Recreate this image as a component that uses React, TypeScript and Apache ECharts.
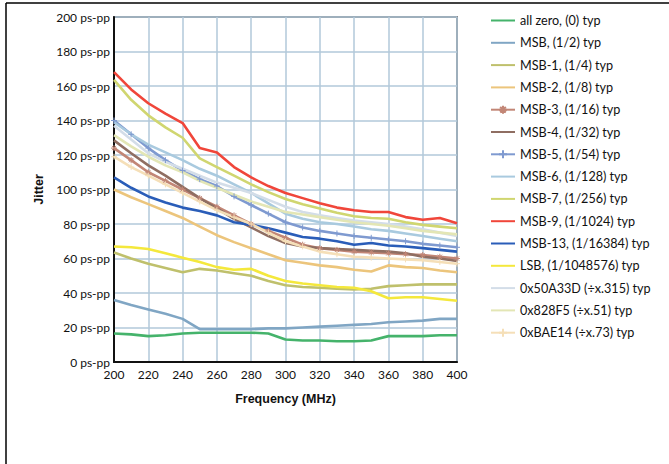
import React, { useEffect, useRef } from "react";
import * as echarts from "echarts";

const freqs = [200, 210, 220, 230, 240, 250, 260, 270, 280, 290, 300, 310, 320, 330, 340, 350, 360, 370, 380, 390, 400];
const yTicks = [0, 20, 40, 60, 80, 100, 120, 140, 160, 180, 200];

const seriesNames = [
  "all zero, (0) typ",
  "MSB, (1/2) typ",
  "MSB-1, (1/4) typ",
  "MSB-2, (1/8) typ",
  "MSB-3, (1/16) typ",
  "MSB-4, (1/32) typ",
  "MSB-5, (1/54) typ",
  "MSB-6, (1/128) typ",
  "MSB-7, (1/256) typ",
  "MSB-9, (1/1024) typ",
  "MSB-13, (1/16384) typ",
  "LSB, (1/1048576) typ",
  "0x50A33D (÷x.315) typ",
  "0x828F5 (÷x.51) typ",
  "0xBAE14 (÷x.73) typ",
];

const allZero = [16.5, 16, 15, 15.5, 16.5, 17, 17, 17, 17, 16.5, 13, 12.5, 12.5, 12, 12, 12.5, 15, 15, 15, 15.5, 15.5];
const msb = [36, 33, 30.5, 28, 25, 19, 19, 19, 19, 19.5, 19.5, 20, 20.5, 21, 21.5, 22, 23, 23.5, 24, 25, 25];
const msb1 = [63.5, 60, 57, 54.5, 52, 54, 53, 51.5, 50, 47, 44.5, 43.5, 43, 42.5, 42, 42.5, 44, 44.5, 45, 45, 45];
const msb2 = [100, 95.5, 91.5, 87.5, 83.5, 78.5, 73.5, 69.5, 66, 62.5, 59, 57.5, 56, 55, 53.5, 52.5, 56, 55, 54.5, 53, 52];
const msb3 = [124, 117, 110, 105, 100, 95, 90, 85, 80, 76, 72, 68, 66, 65, 64, 63.5, 63, 62.5, 62, 61, 60];
const msb4 = [128.5, 121, 114, 108, 101.5, 95, 89, 83, 78, 73, 69, 67, 66, 65.5, 65, 64.5, 64, 63, 61, 60, 58.5];
const msb5 = [140, 132, 124, 117, 111, 106, 102, 96, 91, 86, 81, 78, 76, 74.5, 73, 72, 71, 70, 68.5, 67.5, 66.5];
const msb6 = [139, 132, 126, 121.5, 117, 112, 108, 103, 98, 92, 86, 83, 81, 80, 78.5, 77, 76, 74.5, 73, 71.5, 70];
const msb7 = [163.5, 152, 143, 136, 130, 118, 113, 108, 103, 98.5, 94.5, 91.5, 89, 86.5, 84.5, 83.5, 83, 81, 79.5, 78.5, 77.5];
const msb9 = [168, 158, 150, 144, 138.5, 124, 121.5, 113, 107, 102, 98, 95, 92, 89.5, 88, 87, 87, 84, 82.5, 83.5, 80.5];
const msb13 = [107, 101, 96, 92.5, 89.5, 87.5, 85, 81, 79.5, 77.5, 75, 72.5, 71.5, 70, 68, 69, 67.5, 67, 66, 65, 64];
const lsb = [67, 66.5, 65.5, 63, 60.5, 58, 55, 53.5, 54, 50, 47, 45.5, 44.5, 43.5, 43, 41, 37, 37.5, 37.5, 36.5, 35.5];
const x50A33D = [137, 129, 121, 116, 112, 108, 104, 101, 98, 94, 90, 87, 85, 83.5, 82, 81, 80, 78.5, 77, 75, 73];
const x828F5 = [131.5, 125, 119, 114, 110, 105, 101, 97, 93, 90, 87, 85.5, 84, 82.5, 81, 80, 79, 77.5, 76, 75, 74];
const xBAE14 = [119, 113, 108, 103, 98, 93, 88, 84, 80, 75, 70, 67, 64, 62.5, 61, 60.5, 60, 59.5, 59, 58, 57];

const seriesValues = [allZero, msb, msb1, msb2, msb3, msb4, msb5, msb6, msb7, msb9, msb13, lsb, x50A33D, x828F5, xBAE14];

const colors = [
  "#45b36b", "#80a6c4", "#bfc06c", "#ecc57c", "#c28676", "#8f6e62", "#7f9ad0", "#a9cadf",
  "#d0d670", "#f0463a", "#2a5db8", "#f4e83c", "#d3dde8", "#e3e6b5", "#f5dfb8",
];

const PLUS = "path://M5,0 L5,10 M0,5 L10,5";
const STAR = "path://M5,0 L5,10 M0,5 L10,5 M1.5,1.5 L8.5,8.5 M8.5,1.5 L1.5,8.5";
const markers: Record<number, string> = { 4: STAR, 6: PLUS, 14: PLUS };

export default function App() {
  const ref = useRef<HTMLDivElement>(null);
  useEffect(() => {
    if (!ref.current) return;
    const chart = echarts.init(ref.current, null, { renderer: "svg" });
    const font = "Lato";
    chart.setOption({
      animation: false,
      backgroundColor: "#ffffff",
      grid: {
        left: 114,
        top: 17,
        right: 212,
        bottom: 102,
        show: true,
        borderColor: "#333",
        borderWidth: 1.5,
      },
      legend: {
        orient: "vertical",
        left: 485,
        top: 9,
        itemWidth: 24,
        itemHeight: 10,
        itemGap: 9.3,
        textStyle: { fontFamily: font, fontSize: 12.6, color: "#111" },
        data: seriesNames.map((name, i) =>
          markers[i] ? { name } : { name, itemStyle: { opacity: 0 } }
        ),
      },
      xAxis: {
        type: "value",
        min: 200,
        max: 400,
        interval: 20,
        name: "Frequency (MHz)",
        nameLocation: "middle",
        nameGap: 30,
        nameTextStyle: { fontFamily: "Liberation Sans", fontWeight: "bold", fontSize: 12.5, color: "#111" },
        axisLine: { lineStyle: { color: "#111", width: 2 } },
        axisTick: { show: false },
        axisLabel: { fontFamily: font, fontSize: 12, color: "#111", margin: 6 },
        splitLine: { show: true, lineStyle: { color: "#b2c9da", width: 1.5 } },
      },
      yAxis: {
        type: "value",
        min: 0,
        max: 200,
        interval: 20,
        name: "Jitter",
        nameLocation: "middle",
        nameGap: 59,
        nameRotate: 90,
        nameTextStyle: { fontFamily: "Liberation Sans", fontWeight: "bold", fontSize: 12.5, color: "#111" },
        axisLine: { show: true, lineStyle: { color: "#111", width: 2 } },
        axisTick: { show: false },
        axisLabel: {
          fontFamily: font,
          fontSize: 12,
          color: "#111",
          margin: 4,
          formatter: (v: number) => (yTicks.includes(v) ? `${v} ps-pp` : ""),
        },
        splitLine: { show: true, lineStyle: { color: "#b2c9da", width: 1.5 } },
      },
      graphic: [
        { type: "line", shape: { x1: 6, y1: 3, x2: 669, y2: 3 }, style: { stroke: "#000", lineWidth: 1.5 } },
        { type: "line", shape: { x1: 6, y1: 3, x2: 6, y2: 464 }, style: { stroke: "#000", lineWidth: 1.5 } },
      ],
      series: seriesNames.map((name, i) => ({
        name,
        type: "line",
        data: freqs.map((f, j) => [f, seriesValues[i][j]]),
        symbol: markers[i] ? markers[i] : "none",
        symbolSize: 6,
        showSymbol: !!markers[i],
        itemStyle: { color: colors[i], borderColor: colors[i], borderWidth: 1 },
        lineStyle: { color: colors[i], width: 2.6 },
        emphasis: { disabled: true },
      })),
    });
    return () => chart.dispose();
  }, []);
  return <div ref={ref} style={{ width: 669, height: 464, position: "absolute", left: 0, top: 0 }} />;
}
